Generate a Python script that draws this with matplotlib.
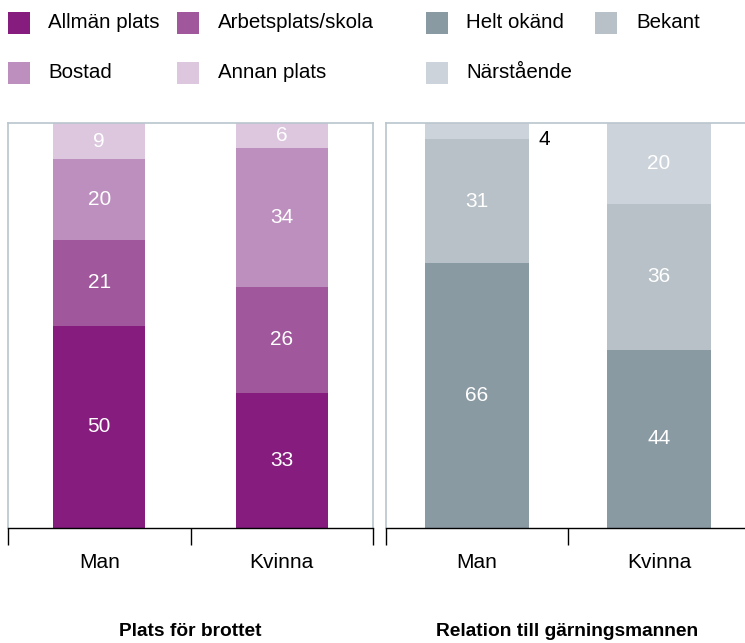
import matplotlib
matplotlib.use("Agg")
import matplotlib.pyplot as plt
from matplotlib.patches import Rectangle
import numpy as np

plt.rcParams['font.family'] = ['Liberation Sans', 'DejaVu Sans']

groups = ["Man", "Kvinna"]

place_labels = ["Allmän plats", "Arbetsplats/skola", "Bostad", "Annan plats"]
place_values = {
    "Allmän plats": [50, 33],
    "Arbetsplats/skola": [21, 26],
    "Bostad": [20, 34],
    "Annan plats": [9, 6],
}
place_colors = ["#851c7e", "#a0579b", "#bd8fbf", "#dcc7df"]

rel_labels = ["Helt okänd", "Bekant", "Närstående"]
rel_values = {
    "Helt okänd": [66, 44],
    "Bekant": [31, 36],
    "Närstående": [4, 20],
}
rel_colors = ["#8a9aa3", "#b7c1c7", "#cdd3db"]

titles = ["Plats för brottet", "Relation till gärningsmannen"]

W, H = 745, 643
fig = plt.figure(figsize=(W / 100, H / 100), dpi=100)


def px_axes(x0, x1, ytop, ybot):
    return fig.add_axes([x0 / W, 1 - ybot / H, (x1 - x0) / W, (ybot - ytop) / H])


frame_col = "#b9c5cd"
VAL_FS = 15
TICK_FS = 15
LEG_FS = 14.8
TITLE_FS = 13.8


def draw_panel(ax, labels, values, colors, width, small_outside=None):
    vals = np.array([values[l] for l in labels], dtype=float)
    totals = vals.sum(axis=0)
    norm = vals / totals * 100
    x = np.arange(len(groups))
    bottom = np.zeros(len(groups))
    for i, lab in enumerate(labels):
        ax.bar(x, norm[i], width, bottom=bottom, color=colors[i], edgecolor="none")
        for j in range(len(groups)):
            v = vals[i, j]
            mid = bottom[j] + norm[i, j] / 2
            if small_outside is not None and (i, j) == small_outside:
                ax.annotate(f"{int(v)}", (x[j] + width / 2, mid), xytext=(7, -6),
                            textcoords="offset points", ha="left", va="center",
                            fontsize=VAL_FS, color="black", annotation_clip=False)
            else:
                ax.text(x[j], mid, f"{int(v)}", ha="center", va="center",
                        fontsize=VAL_FS, color="white")
        bottom += norm[i]
    ax.set_xlim(-0.5, 1.5)
    ax.set_ylim(0, 100)
    ax.set_yticks([])
    ax.set_xticks([-0.5, 0.5, 1.5])
    ax.set_xticklabels([])
    ax.set_xticks(x, minor=True)
    ax.set_xticklabels(groups, minor=True, fontsize=TICK_FS)
    ax.tick_params(axis="x", which="major", length=12, width=1, color="black", direction="out")
    ax.tick_params(axis="x", which="minor", length=0, pad=18)
    for s in ["left", "top", "right"]:
        ax.spines[s].set_color(frame_col)
        ax.spines[s].set_linewidth(1.2)
    ax.spines["bottom"].set_color("black")
    ax.spines["bottom"].set_linewidth(1.0)


ax1 = px_axes(8, 373, 123, 528)
draw_panel(ax1, place_labels, place_values, place_colors, 0.505)

ax2 = px_axes(386, 750, 123, 528)
draw_panel(ax2, rel_labels, rel_values, rel_colors, 0.57, small_outside=(2, 0))

# Titles
fig.text(190 / W, 1 - 632 / H, titles[0], ha="center", va="center",
         fontsize=TITLE_FS, fontweight="bold")
fig.text(567 / W, 1 - 632 / H, titles[1], ha="center", va="center",
         fontsize=TITLE_FS, fontweight="bold")

# Legends (manual grid)
def legend_item(xsq, xtxt, yc, color, label):
    sq = 22
    fig.patches.append(Rectangle((xsq / W, 1 - (yc + sq / 2) / H), sq / W, sq / H,
                                 transform=fig.transFigure, color=color, linewidth=0))
    fig.text(xtxt / W, 1 - yc / H, label, ha="left", va="center", fontsize=LEG_FS)

rows = [23, 73]
left_pos = [(8, 48), (177, 218)]
for k, lab in enumerate(place_labels):
    r, c = divmod(k, 2)
    legend_item(left_pos[c][0], left_pos[c][1], rows[r], place_colors[k], lab)

right_pos = [(426, 466), (595, 636)]
for k, lab in enumerate(rel_labels):
    r, c = divmod(k, 2)
    legend_item(right_pos[c][0], right_pos[c][1], rows[r], rel_colors[k], lab)

fig.savefig("out.png", dpi=100)
